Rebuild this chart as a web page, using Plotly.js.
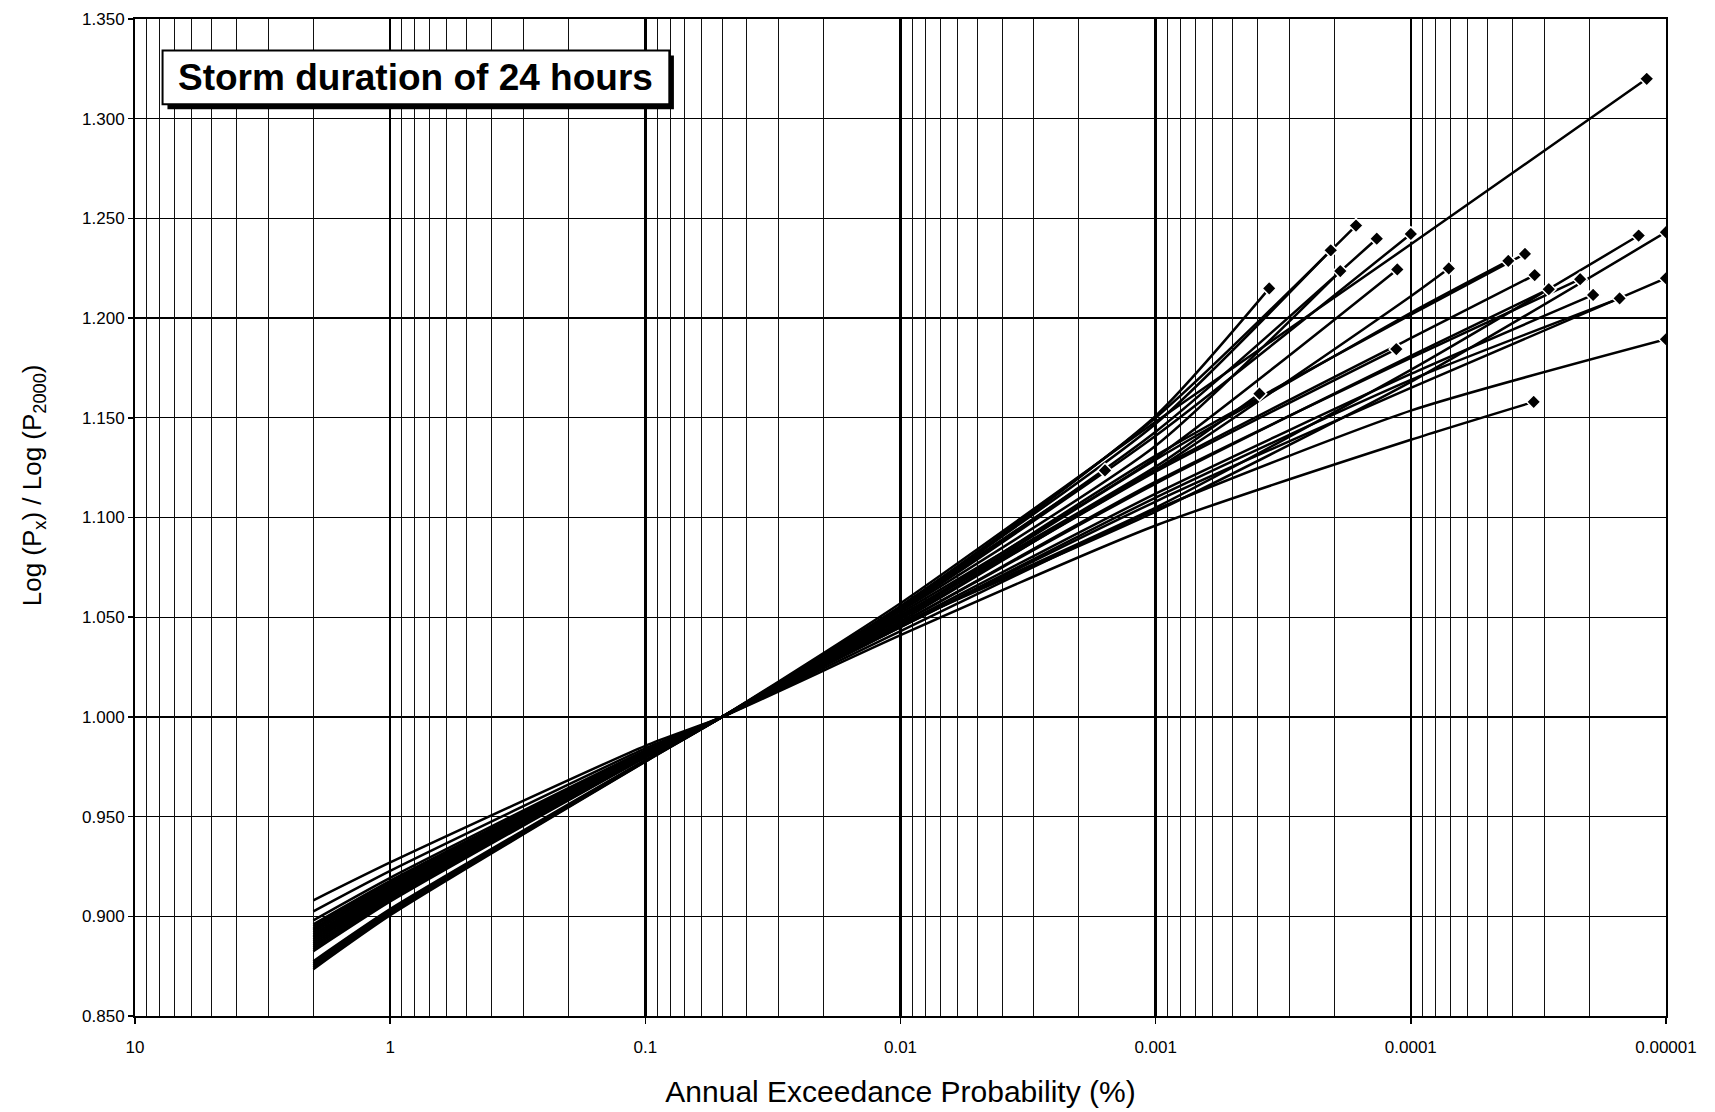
<!DOCTYPE html>
<html>
<head>
<meta charset="utf-8">
<script src="https://cdn.plot.ly/plotly-3.0.1.min.js"></script>
<style>
  html, body { margin: 0; padding: 0; background: #fff; }
  #chart { width: 1715px; height: 1112px; }
</style>
</head>
<body>
<div id="chart"></div>
<script>
// Annual exceedance probabilities (%) at which every growth curve is tabulated
const aepGrid = [2, 1, 0.1, 0.05, 0.01, 0.001, 0.0001];

// Log(Px)/Log(P2000) of each site curve at the tabulated AEPs (null = curve already ended)
const ratioAt2 = [0.8735, 0.8745, 0.8755, 0.8765, 0.8775, 0.8825, 0.8835, 0.8845, 0.8855, 0.8865, 0.8875, 0.8885,
                  0.8895, 0.8900, 0.8910, 0.8920, 0.8930, 0.8935, 0.8940, 0.8950, 0.8960, 0.8980, 0.9025, 0.9080];
const ratioAt1 = [0.9005, 0.9013, 0.9020, 0.9028, 0.9036, 0.9074, 0.9082, 0.9089, 0.9097, 0.9105, 0.9113, 0.9120,
                  0.9128, 0.9132, 0.9139, 0.9147, 0.9155, 0.9159, 0.9162, 0.9170, 0.9178, 0.9193, 0.9228, 0.9270];
const ratioAt01 = [0.9775, 0.9777, 0.9780, 0.9782, 0.9784, 0.9796, 0.9798, 0.9801, 0.9803, 0.9805, 0.9807, 0.9810,
                   0.9812, 0.9813, 0.9816, 0.9818, 0.9820, 0.9821, 0.9823, 0.9825, 0.9827, 0.9832, 0.9842, 0.9855];
const ratioAt005 = [1, 1, 1, 1, 1, 1, 1, 1, 1, 1, 1, 1, 1, 1, 1, 1, 1, 1, 1, 1, 1, 1, 1, 1];
const ratioAt001 = [1.0570, 1.0555, 1.0555, 1.0540, 1.0550, 1.0540, 1.0535, 1.0530, 1.0520, 1.0510, 1.0505, 1.0500,
                    1.0495, 1.0490, 1.0480, 1.0470, 1.0470, 1.0460, 1.0460, 1.0460, 1.0450, 1.0450, 1.0430, 1.0410];
const ratioAt0001 = [1.148, 1.147, 1.150, 1.151, null, 1.143, 1.141, 1.136, 1.130, 1.1255, 1.124, 1.131,
                     1.129, 1.123, 1.124, 1.117, 1.118, 1.105, 1.103, 1.112, 1.110, 1.108, 1.104, 1.096];
const ratioAt00001 = [1.237, null, null, null, null, null, null, null, null, null, 1.211, 1.2017,
                      1.2027, null, 1.190, 1.181, 1.180, 1.174, 1.168, 1.172, 1.169, 1.165, 1.1536, 1.139];

// Last plotted point of each curve (marked with a diamond)
const endAep = [1.19e-5, 2.06e-4, 1.64e-4, 3.59e-4, 1.58e-3, 1.36e-4, 1.0e-4, 1.89e-4, 1.13e-4, 3.92e-4, 7.1e-5, 3.57e-5,
                4.15e-5, 1.14e-4, 3.27e-5, 2.88e-5, 2.17e-5, 1.28e-5, 1.0e-5, 1.93e-5, 1.52e-5, 1.0e-5, 1.0e-5, 3.3e-5];
const endRatio = [1.3200, 1.2340, 1.2464, 1.2149, 1.1236, 1.2398, 1.2422, 1.2236, 1.2244, 1.1621, 1.2249, 1.2322,
                  1.2287, 1.1845, 1.2216, 1.2145, 1.2195, 1.2414, 1.2431, 1.2116, 1.2099, 1.2200, 1.1894, 1.1580];

// Axis labels
const xTickVals = [10, 1, 0.1, 0.01, 0.001, 0.0001, 0.00001];
const xTickText = ['10', '1', '0.1', '0.01', '0.001', '0.0001', '0.00001'];

const columns = [ratioAt2, ratioAt1, ratioAt01, ratioAt005, ratioAt001, ratioAt0001, ratioAt00001];

const FONT = 'Liberation Sans, Arial, Helvetica, sans-serif';

const traces = [];
for (let s = 0; s < endAep.length; s++) {
  const xs = [], ys = [];
  for (let k = 0; k < aepGrid.length; k++) {
    const v = columns[k][s];
    if (v !== null && aepGrid[k] > endAep[s]) { xs.push(aepGrid[k]); ys.push(v); }
  }
  xs.push(endAep[s]); ys.push(endRatio[s]);
  traces.push({
    type: 'scatter', mode: 'lines', x: xs, y: ys,
    line: { color: '#000', width: 2.5, shape: 'spline', smoothing: 0.6 },
    hoverinfo: 'skip', xaxis: 'x', yaxis: 'y'
  });
}
// End-point diamonds, on the overlaid axis so they sit above every curve
traces.push({
  type: 'scatter', mode: 'markers', x: endAep, y: endRatio,
  marker: { symbol: 'diamond', size: 11, color: '#000', line: { color: '#fff', width: 1.5 } },
  hoverinfo: 'skip', xaxis: 'x2', yaxis: 'y'
});

// Minor log grid: 2..9 within each decade
const minorVals = [];
for (let p = -5; p <= 0; p++) {
  for (let m = 2; m <= 9; m++) minorVals.push(m * Math.pow(10, p));
}

const layout = {
  width: 1715, height: 1112,
  margin: { l: 135, r: 49, t: 19, b: 96 },
  paper_bgcolor: '#fff', plot_bgcolor: '#fff',
  showlegend: false,
  font: { family: FONT, color: '#000' },
  xaxis: {
    type: 'log', range: [1, -5], autorange: false,
    tickmode: 'array', tickvals: xTickVals, ticktext: xTickText,
    showgrid: true, gridcolor: '#000', gridwidth: 2.6,
    zeroline: false, showline: true, linecolor: '#000', linewidth: 2, mirror: true,
    ticks: 'outside', ticklen: 6, tickwidth: 1.5, tickcolor: '#000',
    ticklabelstandoff: 9,
    tickfont: { family: FONT, size: 17, color: '#000' },
    title: { text: 'Annual Exceedance Probability (%)', font: { family: FONT, size: 30, color: '#000' }, standoff: 25 }
  },
  xaxis2: {
    type: 'log', range: [1, -5], autorange: false, overlaying: 'x', anchor: 'y', side: 'bottom',
    tickmode: 'array', tickvals: minorVals, showticklabels: false, ticks: '',
    showgrid: true, gridcolor: '#111', gridwidth: 1,
    showline: false, zeroline: false
  },
  yaxis: {
    range: [0.85, 1.35], autorange: false, tick0: 0.85, dtick: 0.05, tickformat: '.3f',
    showgrid: true, gridcolor: '#000', gridwidth: 1.3,
    zeroline: false, showline: true, linecolor: '#000', linewidth: 2, mirror: true,
    ticks: 'outside', ticklen: 5, tickwidth: 1.5, tickcolor: '#000',
    tickfont: { family: FONT, size: 17, color: '#000' }
  },
  shapes: [
    { type: 'rect', xref: 'paper', yref: 'paper', x0: 0.0212, x1: 0.3520, y0: 0.9094, y1: 0.9635,
      fillcolor: '#000', line: { color: '#000', width: 0 }, layer: 'above' },
    { type: 'rect', xref: 'paper', yref: 'paper', x0: 0.0180, x1: 0.3490, y0: 0.9144, y1: 0.9685,
      fillcolor: '#fff', line: { color: '#000', width: 2 }, layer: 'above' }
  ],
  annotations: [
    { xref: 'paper', yref: 'paper', x: 0.1835, y: 0.9414, xanchor: 'center', yanchor: 'middle',
      text: '<b>Storm duration of 24 hours</b>', showarrow: false,
      font: { family: FONT, size: 37, color: '#000' } },
    { xref: 'paper', yref: 'paper', x: -0.0663, y: 0.5328, xanchor: 'center', yanchor: 'middle',
      textangle: -90, showarrow: false,
      text: 'Log (P<sub>x</sub>) / Log (P<sub>2000</sub>)',
      font: { family: FONT, size: 26, color: '#000' } }
  ]
};

Plotly.newPlot('chart', traces, layout, { staticPlot: true, displayModeBar: false });
</script>
</body>
</html>
